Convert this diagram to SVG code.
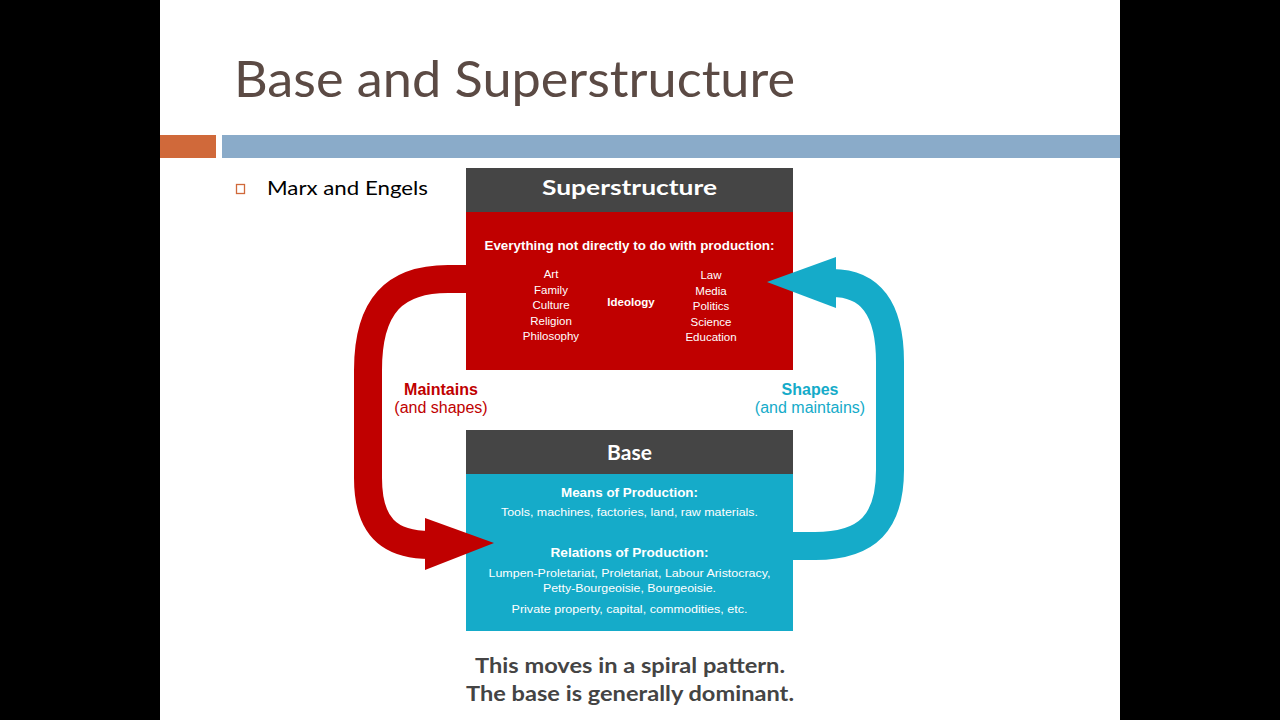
<svg xmlns="http://www.w3.org/2000/svg" width="1280" height="720" viewBox="0 0 1280 720">
<defs>
<style>
.ttl{font-family:Lato,"Open Sans",sans-serif;font-size:50px;fill:#5b4a44}
.bul{font-family:Lato,"Open Sans",sans-serif;font-size:19px;fill:#000}
.hdr{font-family:Lato,"Open Sans",sans-serif;font-weight:bold;font-size:21px;fill:#fff;text-anchor:middle}
.bx{font-family:"Liberation Sans",Arial,sans-serif;fill:#fff;text-anchor:middle}
.b{font-weight:bold}
.lbl{font-family:"Liberation Sans",Arial,sans-serif;font-size:16px;text-anchor:middle}
.foot{font-family:Lato,"Open Sans",sans-serif;font-weight:bold;font-size:20px;fill:#444;text-anchor:middle}
.band{fill:none;stroke-width:28;stroke-linejoin:round}
</style>
</defs>
<rect x="0" y="0" width="1280" height="720" fill="#000"/>
<rect x="160" y="0" width="960" height="720" fill="#fff"/>
<text class="ttl" x="234" y="97" textLength="561" lengthAdjust="spacingAndGlyphs">Base and Superstructure</text>
<rect x="160" y="135" width="56" height="23" fill="#d0693a"/>
<rect x="222" y="135" width="898" height="23" fill="#8aabc9"/>
<rect x="236.5" y="184.5" width="8" height="9" fill="none" stroke="#d0693a" stroke-width="1.3"/>
<text class="bul" x="267" y="195" textLength="161" lengthAdjust="spacingAndGlyphs">Marx and Engels</text>

<g id="superstructure">
<rect x="466" y="212" width="327" height="158" fill="#c00000"/>
<rect x="466" y="168" width="327" height="44" fill="#454545"/>
<text class="hdr" x="629.5" y="195" textLength="175" lengthAdjust="spacingAndGlyphs">Superstructure</text>
<text class="bx b" x="629.5" y="250" font-size="12" textLength="290" lengthAdjust="spacingAndGlyphs">Everything not directly to do with production:</text>
<g class="bx" font-size="11.5">
<text x="551" y="278">Art</text>
<text x="551" y="293.5">Family</text>
<text x="551" y="309">Culture</text>
<text x="551" y="324.5">Religion</text>
<text x="551" y="340">Philosophy</text>
<text x="711" y="279">Law</text>
<text x="711" y="294.5">Media</text>
<text x="711" y="310">Politics</text>
<text x="711" y="325.5">Science</text>
<text x="711" y="341">Education</text>
</g>
<text class="bx b" x="631" y="306" font-size="11.5">Ideology</text>
</g>

<g id="base">
<rect x="466" y="474" width="327" height="157" fill="#15abc9"/>
<rect x="466" y="430" width="327" height="44" fill="#454545"/>
<text class="hdr" x="629.5" y="460">Base</text>
<text class="bx b" x="629.5" y="497" font-size="12.5" textLength="137" lengthAdjust="spacingAndGlyphs">Means of Production:</text>
<text class="bx" x="629.5" y="516" font-size="11" textLength="257" lengthAdjust="spacingAndGlyphs">Tools, machines, factories, land, raw materials.</text>
<text class="bx b" x="629.5" y="557" font-size="12.5" textLength="158" lengthAdjust="spacingAndGlyphs">Relations of Production:</text>
<text class="bx" x="629.5" y="577" font-size="11" textLength="282" lengthAdjust="spacingAndGlyphs">Lumpen-Proletariat, Proletariat, Labour Aristocracy,</text>
<text class="bx" x="629.5" y="592" font-size="11" textLength="173" lengthAdjust="spacingAndGlyphs">Petty-Bourgeoisie, Bourgeoisie.</text>
<text class="bx" x="629.5" y="613" font-size="11" textLength="236" lengthAdjust="spacingAndGlyphs">Private property, capital, commodities, etc.</text>
</g>

<g id="connectors">
<path class="band" stroke="#c00000" d="M 466 279 L 448 279 C 395 279 368 305 368 370 L 368 478 C 368 525 388 545 430 545"/>
<polygon fill="#c00000" points="425,518 494,543 425,570"/>
<path class="band" stroke="#15abc9" d="M 793 546 L 815 546 C 868 546 890 522 890 470 L 890 362 C 890 308 870 283 832 283"/>
<polygon fill="#15abc9" points="836,257 767,282 836,308"/>
</g>

<g id="label-maintains" class="lbl" fill="#c00000">
<text x="441" y="395" font-weight="bold">Maintains</text>
<text x="441" y="413">(and shapes)</text>
</g>
<g id="label-shapes" class="lbl" fill="#15abc9">
<text x="810" y="395" font-weight="bold">Shapes</text>
<text x="810" y="413">(and maintains)</text>
</g>

<text class="foot" x="630" y="673" textLength="310" lengthAdjust="spacingAndGlyphs">This moves in a spiral pattern.</text>
<text class="foot" x="630" y="701" textLength="328" lengthAdjust="spacingAndGlyphs">The base is generally dominant.</text>
</svg>
